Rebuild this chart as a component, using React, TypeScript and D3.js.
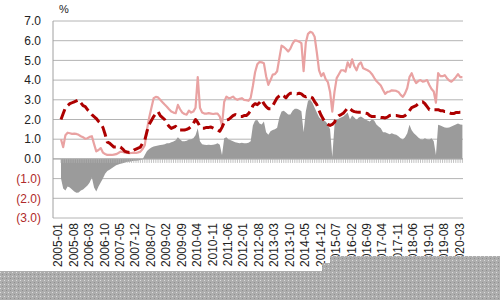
import React from "react";
import * as d3 from "d3";

// Monthly series, 2005-01 .. 2020-03 (183 months), in %
const pinkSeries = [
  1.0, 0.6, 1.2, 1.33, 1.3, 1.27, 1.28, 1.27, 1.22, 1.15, 1.1, 1.02, 1.05, 1.12, 1.15, 0.75, 0.38, 0.45, 0.55, 0.32,
  0.25, 0.2, 0.2, 0.2, 0.22, 0.24, 0.3, 0.37, 0.35, 0.32, 0.3, 0.29, 0.3, 0.32, 0.3, 0.33, 0.37, 0.5, 0.7, 1.5,
  2.1, 2.6, 3.08, 3.15, 3.12, 3.0, 2.88, 2.76, 2.65, 2.52, 2.4, 2.35, 2.32, 2.74, 2.52, 2.35, 2.28, 2.25, 2.45, 2.35,
  2.4, 2.6, 4.15, 2.6, 2.35, 2.3, 2.3, 2.32, 2.3, 2.28, 2.3, 2.3, 2.15, 1.7, 2.9, 3.16, 3.08, 3.1, 3.16, 3.05,
  3.0, 3.05, 3.08, 3.0, 2.98, 2.95, 3.1, 3.7, 4.4, 4.8, 4.92, 4.9, 4.85, 4.2, 3.76, 4.0, 4.28, 4.3, 4.45, 5.1,
  5.75, 5.68, 5.58, 5.45, 5.6, 5.85, 6.02, 6.0, 5.95, 5.88, 4.45, 5.9, 6.35, 6.45, 6.4, 6.2, 5.4, 4.5, 4.2, 4.35,
  4.05, 3.9, 3.4, 2.4, 3.4, 4.1, 4.3, 4.5, 4.5, 4.43, 4.9, 4.65, 5.05, 4.7, 4.5, 4.8, 4.9, 4.6, 4.55, 4.5,
  4.43, 4.3, 4.12, 3.95, 3.84, 3.72, 3.5, 3.3, 3.4, 3.42, 3.48, 3.47, 3.45, 3.4, 3.25, 3.15, 3.33, 3.6, 4.15, 4.35,
  4.05, 3.85, 3.95, 4.0, 3.92, 3.95, 4.0, 3.75, 3.55, 3.42, 2.85, 4.35, 4.2, 4.2, 4.25, 4.1, 3.98, 3.92, 4.02, 4.15,
  4.3, 4.15, 4.15,
];

const redSeries = [
  2.0, 2.3, 2.6, 2.7, 2.8, 2.85, 2.9, 2.95, 3.0, 2.85, 2.7, 2.65, 2.5, 2.4, 2.25, 2.15, 2.05, 1.9, 1.8, 1.6,
  1.25, 0.85, 0.8, 0.7, 0.6, 0.6, 0.65, 0.6, 0.5, 0.38, 0.35, 0.33, 0.35, 0.45, 0.5, 0.55, 0.6, 0.8, 0.95, 1.4,
  1.75, 1.95, 2.15, 2.3, 2.4, 2.2, 2.1, 2.0, 1.8, 1.65, 1.55, 1.6, 1.65, 1.5, 1.47, 1.47, 1.47, 1.5, 1.55, 1.65,
  1.8, 2.0, 1.85, 1.65, 1.56, 1.56, 1.6, 1.6, 1.62, 1.56, 1.5, 1.47, 1.4, 1.6, 1.85, 1.98, 2.0, 2.1, 2.2, 2.25,
  2.2, 2.15, 2.15, 2.2, 2.2, 2.3, 2.45, 2.7, 2.8, 2.75, 2.85, 3.0, 2.8, 2.65, 2.55, 2.55, 2.7, 2.9, 3.1, 3.2,
  3.28, 3.2, 3.1, 3.25, 3.33, 3.33, 3.33, 3.3, 3.33, 3.3, 3.2, 3.15, 3.2, 3.15, 3.1, 2.9, 2.75, 2.45, 2.2, 2.0,
  1.85, 1.75, 1.7, 1.75, 1.85, 2.1, 2.2, 2.25, 2.32, 2.45, 2.6, 2.55, 2.45, 2.4, 2.38, 2.37, 2.37, 2.35, 2.32, 2.3,
  2.2, 2.15, 2.15, 2.15, 2.12, 2.1, 2.1, 2.08, 2.12, 2.2, 2.22, 2.2, 2.2, 2.18, 2.15, 2.15, 2.2, 2.3, 2.45, 2.6,
  2.65, 2.7, 2.8, 2.85, 2.9, 2.8, 2.65, 2.5, 2.5, 2.5, 2.5, 2.5, 2.45, 2.45, 2.4, 2.4, 2.35, 2.3, 2.3, 2.35,
  2.35, 2.37, 2.37,
];

const graySeries = [
  -1.0, -1.5, -1.6, -1.4, -1.45, -1.55, -1.65, -1.72, -1.7, -1.6, -1.55, -1.45, -1.35, -1.2, -0.95, -1.45, -1.65, -1.4, -1.2, -1.0,
  -0.75, -0.62, -0.55, -0.47, -0.4, -0.32, -0.28, -0.25, -0.22, -0.18, -0.15, -0.14, -0.12, -0.1, -0.09, -0.08, -0.06, -0.02, 0.2, 0.4,
  0.5, 0.58, 0.63, 0.65, 0.68, 0.7, 0.72, 0.75, 0.8, 0.8, 0.85, 0.88, 0.95, 1.1, 0.98, 0.9, 0.9, 0.92, 0.98, 1.0,
  1.05, 1.2, 1.55, 0.9, 0.75, 0.72, 0.7, 0.72, 0.7, 0.72, 0.75, 0.8, 0.72, 0.2, 1.05, 1.1, 0.98, 0.95, 0.9, 0.85,
  0.82, 0.8, 0.82, 0.8, 0.8, 0.82, 0.9, 1.7, 1.95, 1.98, 1.8, 1.75, 1.9, 1.35, 1.22, 1.4, 1.47, 1.5, 1.58, 2.1,
  2.4, 2.45, 2.35, 2.25, 2.25, 2.45, 2.55, 2.55, 2.5, 2.42, 1.35, 2.4, 2.95, 3.0, 2.85, 2.6, 2.35, 2.12, 2.0, 1.95,
  1.9, 1.75, 1.5, 0.1, 1.7, 1.98, 2.05, 2.1, 2.15, 2.25, 2.35, 2.0, 2.2, 2.1, 1.98, 2.1, 2.15, 2.08, 2.0, 1.95,
  1.9, 2.0, 1.95, 1.75, 1.65, 1.55, 1.35, 1.35, 1.3, 1.25, 1.3, 1.25, 1.22, 1.15, 1.05, 0.98, 1.1, 1.3, 1.73, 1.45,
  1.3, 1.2, 1.08, 1.0, 0.98, 1.05, 1.0, 0.98, 1.05, 0.9, 0.2, 1.73, 1.7, 1.65, 1.6, 1.58, 1.6, 1.64, 1.7, 1.75,
  1.8, 1.75, 1.73,
];

const xTickLabels = [
  "2005-01", "2005-08", "2006-03", "2006-10", "2007-05", "2007-12", "2008-07", "2009-02", "2009-09",
  "2010-04", "2010-11", "2011-06", "2012-01", "2012-08", "2013-03", "2013-10", "2014-05", "2014-12",
  "2015-07", "2016-02", "2016-09", "2017-04", "2017-11", "2018-06", "2019-01", "2019-08", "2020-03",
];
const xTickStep = 7;

const yTicks = [7, 6, 5, 4, 3, 2, 1, 0, -1, -2, -3];

const fmtY = (v: number) => (v < 0 ? `(${Math.abs(v).toFixed(1)})` : v.toFixed(1));

export default function App() {
  const W = 500;
  const H = 300;
  const n = pinkSeries.length;
  const x = d3.scaleLinear().domain([0, n - 1]).range([61, 462.4]);
  const y = d3.scaleLinear().domain([-3, 7]).range([218, 21]);
  const axisX0 = 53;
  const axisX1 = 463;

  const area = d3
    .area<number>()
    .x((_, i) => x(i))
    .y0(y(0))
    .y1((d) => y(d));
  const line = d3
    .line<number>()
    .x((_, i) => x(i))
    .y((d) => y(d));

  const font = "Arial, 'Liberation Sans', sans-serif";

  return (
    <svg
      width={W}
      height={H}
      style={{ position: "absolute", left: 0, top: 0, background: "#fff" }}
      fontFamily={font}
    >
      <defs>
        <pattern id="dots" width="4" height="4" patternUnits="userSpaceOnUse">
          <rect width="4" height="4" fill="#adadad" />
          <rect x="0" y="0" width="1" height="1" fill="#dcdcdc" />
          <rect x="2" y="2" width="1" height="1" fill="#8e8e8e" />
        </pattern>
      </defs>
      <rect width={W} height={H} fill="#fff" />

      {/* gridlines */}
      {yTicks.map((t) => (
        <line key={t} x1={axisX0} x2={axisX1} y1={y(t)} y2={y(t)} stroke="#b4b4b4" strokeWidth={1} />
      ))}

      {/* gray area */}
      <path d={area(graySeries) || ""} fill="#9b9b9b" />

      {/* zero axis with monthly ticks */}
      <line x1={axisX0} x2={axisX1} y1={y(0)} y2={y(0)} stroke="#a8a8a8" strokeWidth={1} />
      {pinkSeries.map((_, i) => (
        <line key={i} x1={x(i)} x2={x(i)} y1={y(0)} y2={y(0) + 4} stroke="#b0b0b0" strokeWidth={0.8} />
      ))}

      {/* left axis */}
      <line x1={axisX0} x2={axisX0} y1={y(7)} y2={y(-3)} stroke="#a0a0a0" strokeWidth={1} />

      {/* pink line */}
      <path d={line(pinkSeries) || ""} fill="none" stroke="#e9a2a2" strokeWidth={2.2} strokeLinejoin="round" />

      {/* red dashed line */}
      <path
        d={line(redSeries) || ""}
        fill="none"
        stroke="#ad0000"
        strokeWidth={3}
        strokeDasharray="11 5"
        strokeLinejoin="round"
      />

      {/* y labels */}
      {yTicks.map((t) => (
        <text
          key={t}
          x={41}
          y={y(t)}
          dy="0.35em"
          textAnchor="end"
          fontSize={12}
          fill={t < 0 ? "#b02a2a" : "#222"}
        >
          {fmtY(t)}
        </text>
      ))}
      <text x={59} y={13} fontSize={11} fill="#222">
        %
      </text>

      {/* x labels */}
      {xTickLabels.map((lab, k) => {
        const px = x(k * xTickStep) - 3;
        const py = 223;
        return (
          <text
            key={lab}
            transform={`translate(${px},${py}) rotate(-90)`}
            textAnchor="end"
            dy="0.35em"
            fontSize={12}
            fill="#222"
          >
            {lab}
          </text>
        );
      })}

      {/* bottom dotted overlay */}
      <polygon
        points="0,271 322,271 322,263 330,263 330,256 500,256 500,300 0,300"
        fill="url(#dots)"
      />
    </svg>
  );
}
